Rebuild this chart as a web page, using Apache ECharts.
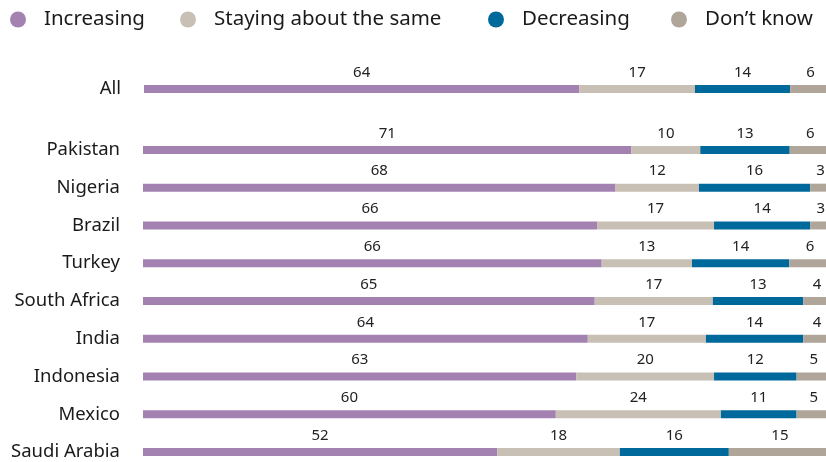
<!DOCTYPE html>
<html><head><meta charset="utf-8">
<script src="https://cdn.jsdelivr.net/npm/echarts@6/dist/echarts.min.js"></script>
<style>html,body{margin:0;padding:0;background:#fff}#c{width:826px;height:462px}</style>
</head><body><div id="c"></div>
<script>
const seriesNames = ['Increasing', 'Staying about the same', 'Decreasing', 'Don\u2019t know'];
const colors = ['#a382b2', '#c8bfb5', '#00699b', '#b0a599'];
const allCategory = ['All'];
const allValues = [64, 17, 14, 6];
const countries = ['Pakistan', 'Nigeria', 'Brazil', 'Turkey', 'South Africa', 'India', 'Indonesia', 'Mexico', 'Saudi Arabia'];
const increasing = [71, 68, 66, 66, 65, 64, 63, 60, 52];
const staying = [10, 12, 17, 13, 17, 17, 20, 24, 18];
const decreasing = [13, 16, 14, 14, 13, 14, 12, 11, 16];
const dontKnow = [6, 3, 3, 6, 4, 4, 5, 5, 15];
const countrySeries = [increasing, staying, decreasing, dontKnow];

// each row is drawn as a share of its own total (bars span full width)
const countryTotals = countries.map((c, j) => countrySeries.reduce((s, arr) => s + arr[j], 0));
const allTotal = allValues.reduce((s, v) => s + v, 0);

const font = 'Noto Sans';
const chart = echarts.init(document.getElementById('c'));
const label = {show: true, position: 'top', distance: 5, color: '#222', fontSize: 15, fontFamily: font,
  formatter: p => String(p.data.raw)};
const series = [];
seriesNames.forEach((n, i) => {
  series.push({type: 'bar', name: n, stack: 'a', xAxisIndex: 0, yAxisIndex: 0,
    data: [{value: allValues[i] / allTotal * 100, raw: allValues[i]}],
    barWidth: 8, itemStyle: {color: colors[i]}, label: label, animation: false});
  series.push({type: 'bar', name: n, stack: 'b', xAxisIndex: 1, yAxisIndex: 1,
    data: countrySeries[i].map((v, j) => ({value: v / countryTotals[j] * 100, raw: v})),
    barWidth: 8, itemStyle: {color: colors[i]}, label: label, animation: false});
});
const legendCenters = [18, 188, 496, 679];
const legends = seriesNames.map((n, i) => ({
  data: [n], left: legendCenters[i] - 8, top: 9, padding: 0, itemWidth: 16, itemHeight: 16, icon: 'circle',
  selectedMode: false,
  textStyle: {fontSize: 20.5, fontFamily: font, color: '#1a1a1a', padding: [0, 0, 0, 13]}
}));
const xAx = (gi) => ({type: 'value', gridIndex: gi, min: 0, max: 100, show: false});
const yAx = (gi, data) => ({type: 'category', gridIndex: gi, data: data, inverse: true,
  axisLine: {show: false}, axisTick: {show: false},
  axisLabel: {fontSize: 18.5, fontFamily: font, color: '#1a1a1a', margin: 23}});
chart.setOption({
  animation: false,
  legend: legends,
  grid: [
    {left: 144, right: -5, top: 70, height: 38, outerBoundsMode: 'none', containLabel: false},
    {left: 143, right: -5, top: 131, height: 340, outerBoundsMode: 'none', containLabel: false}
  ],
  xAxis: [xAx(0), xAx(1)],
  yAxis: [yAx(0, allCategory), yAx(1, countries)],
  series: series
});
</script></body></html>
